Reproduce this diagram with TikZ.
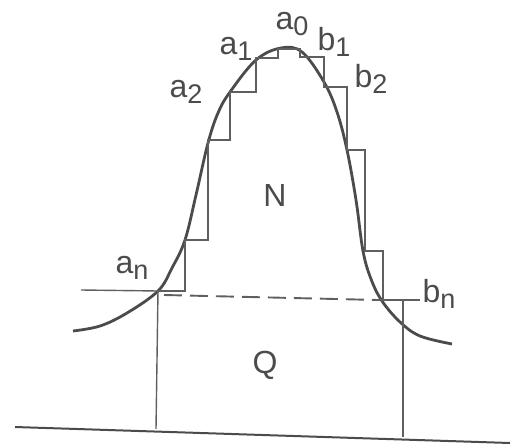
\documentclass[tikz,border=0pt]{standalone}
\usepackage{fontspec}
\setmainfont{Liberation Sans}
\usetikzlibrary{calc}
\definecolor{ink}{RGB}{75,75,75}
\definecolor{thin}{RGB}{95,95,95}
\newcommand{\sublbl}[1]{\raisebox{-6pt}{\fontsize{27}{27}\selectfont #1}}

\tikzset{
  curve/.style={draw=ink, line width=2.8pt},
  stair/.style={draw=thin, line width=1.4pt},
  guide/.style={draw=thin, line width=1.4pt},
  lbl/.style={text=ink, inner sep=0pt, font=\fontsize{32}{34}\selectfont}
}

\begin{document}
\begin{tikzpicture}[x=1pt, y=-1pt]
  \useasboundingbox (0,0) rectangle (527,446);

  % key points
  \coordinate (an) at (158,291);
  \coordinate (bn) at (403,300);
  \coordinate (an base) at (156,429);
  \coordinate (bn base) at (403,437);

  % the bell curve
  \draw[curve] plot[smooth, tension=0.6] coordinates {
    (73,331) (100,326) (127,313) (158,291) (172,268) (185,240)
    (196,195) (208,143) (218,113) (230,92) (256,60) (281,48)
    (302,52) (324,82) (337,112) (347,150) (356,200) (363,251)
    (371,279) (382,301) (400,322) (420,336) (452,344)};

  % steps, left inside and right outside
  \draw[stair] (an) -- (185,291) -- (185,240) -- (208,240) -- (208,140)
    -- (230,140) -- (230,92) -- (256,92) -- (256,58) -- (278,58) -- (278,49)
    -- (300,49) -- (300,57) -- (324,57) -- (324,87) -- (347,87) -- (347,150)
    -- (365,150) -- (365,251) -- (383,251) -- (383,300);

  % level line
  \draw[guide] (81,290) -- (an);
  \draw[guide, line width=1.9pt, dash pattern=on 18pt off 8pt] (164,295) -- (378,300);
  \draw[guide, line width=1.9pt] (378,300) -- (420,300);

  % verticals and base
  \draw[guide] (an) -- (an base);
  \draw[guide] (bn) -- (bn base);
  \draw[ink, line width=2pt] (15,427) -- (510,443);

  % labels
  \node[lbl] (la0) at (292,24) {a\sublbl{0}};
  \node[lbl] (la1) at (236,49) {a\sublbl{1}};
  \node[lbl] (la2) at (186,92) {a\sublbl{2}};
  \node[lbl] (lan) at (132,268) {a\sublbl{n}};
  \node[lbl] (lb1) at (334,42) {b\sublbl{1}};
  \node[lbl] (lb2) at (371,79) {b\sublbl{2}};
  \node[lbl] (lbn) at (439,294) {b\sublbl{n}};
  \node[lbl] (lN) at (275,195) {N};
  \node[lbl] (lQ) at (265,365) {Q};
\end{tikzpicture}
\end{document}
